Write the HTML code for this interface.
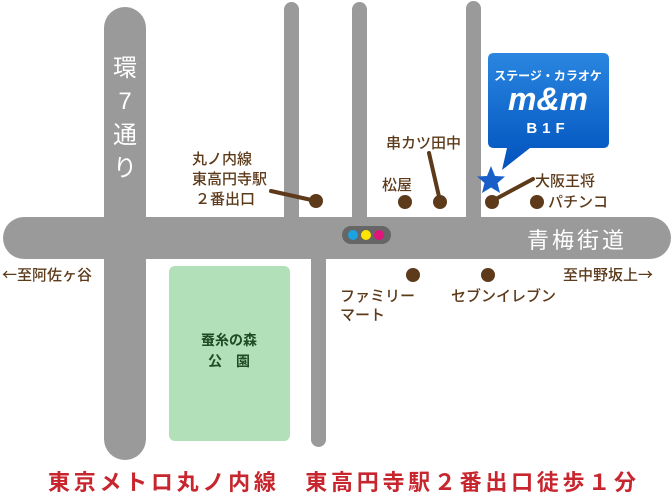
<!DOCTYPE html>
<html><head><meta charset="utf-8"><style>
html,body{margin:0;padding:0;background:#fff;}
svg{display:block;}
text{font-family:"Liberation Sans","Noto Sans CJK JP",sans-serif;}
</style></head><body>
<svg width="672" height="494" viewBox="0 0 672 494" xmlns="http://www.w3.org/2000/svg">
<defs>
<linearGradient id="bg" x1="0" y1="0" x2="0" y2="1">
<stop offset="0" stop-color="#2a86e0"/><stop offset="1" stop-color="#0052bd"/>
</linearGradient>
</defs>
<g fill="#9a9a9a">
<rect x="104" y="7" width="42" height="453" rx="21"/>
<rect x="3" y="217" width="668" height="42" rx="21"/>
<rect x="284" y="2" width="15" height="230" rx="7.5"/>
<rect x="352" y="2" width="15" height="230" rx="7.5"/>
<rect x="466" y="1" width="15" height="230" rx="7.5"/>
<rect x="311" y="240" width="15" height="207" rx="7.5"/>
</g>
<rect x="169" y="266" width="121" height="175" rx="6" fill="#b2e0b8"/>
<text x="229" y="345" font-size="14" font-weight="bold" fill="#1f4a22" text-anchor="middle">蚕糸の森</text>
<text x="229" y="366" font-size="14" font-weight="bold" fill="#1f4a22" text-anchor="middle">公　園</text>
<rect x="342" y="226" width="49" height="18" rx="9" fill="#666"/>
<circle cx="353" cy="235" r="5" fill="#1aa3e0"/>
<circle cx="366" cy="235" r="5" fill="#ffe600"/>
<circle cx="379" cy="235" r="5" fill="#e0147a"/>
<g fill="#fff" font-size="24" text-anchor="middle">
<text x="125" y="76">環</text><text x="125" y="109">7</text><text x="125" y="143">通</text><text x="125" y="176">り</text>
</g>
<text x="527" y="248" font-size="22" fill="#fff" letter-spacing="3">青梅街道</text>
<g stroke="#5c3a1a" stroke-width="4" stroke-linecap="round">
<line x1="271" y1="191" x2="316" y2="201"/>
<line x1="429" y1="153" x2="440" y2="201"/>
<line x1="533" y1="179" x2="492" y2="201"/>
</g>
<g fill="#5c3a1a">
<circle cx="316" cy="201" r="7"/><circle cx="405" cy="202" r="7"/><circle cx="440" cy="202" r="7"/>
<circle cx="492" cy="202" r="7"/><circle cx="537" cy="202" r="7"/>
<circle cx="413" cy="275" r="7"/><circle cx="488" cy="275" r="7"/>
</g>
<g fill="#5c3a1a" font-size="15" font-weight="500">
<text x="192" y="164">丸ノ内線</text>
<text x="192" y="184">東高円寺駅</text>
<text x="195" y="204">２番出口</text>
<text x="386" y="148">串カツ田中</text>
<text x="382" y="190">松屋</text>
<text x="535" y="186">大阪王将</text>
<text x="548" y="207">パチンコ</text>
<text x="340" y="301">ファミリー</text>
<text x="340" y="320">マート</text>
<text x="451" y="301">セブンイレブン</text>
<text x="563" y="280">至中野坂上<tspan font-family="Noto Sans CJK JP">→</tspan></text>
<text x="2" y="280"><tspan font-family="Noto Sans CJK JP">←</tspan>至阿佐ヶ谷</text>
</g>
<path d="M494 53 H603 Q609 53 609 59 V142 Q609 148 603 148 H530 L502 170 L507 148 H494 Q488 148 488 142 V59 Q488 53 494 53 Z" fill="url(#bg)"/>
<text x="548" y="80" font-size="12" font-weight="bold" fill="#fff" text-anchor="middle">ステージ・カラオケ</text>
<text x="548" y="110" font-size="32" font-weight="bold" font-style="italic" fill="#fff" text-anchor="middle" font-family="Liberation Serif,serif">m&amp;m</text>
<text x="548" y="133" font-size="15" font-weight="bold" fill="#fff" text-anchor="middle" letter-spacing="5">B1F</text>
<polygon points="491,166 495,176 505,176.5 497.5,183 500,193 491,187.5 482,193 484.5,183 477,176.5 487,176" fill="#1a5fc8"/>
<text x="48" y="490" font-size="22" font-weight="bold" fill="#c8262e" textLength="588" lengthAdjust="spacing">東京メトロ丸ノ内線　東高円寺駅２番出口徒歩１分</text>
</svg>
</body></html>
